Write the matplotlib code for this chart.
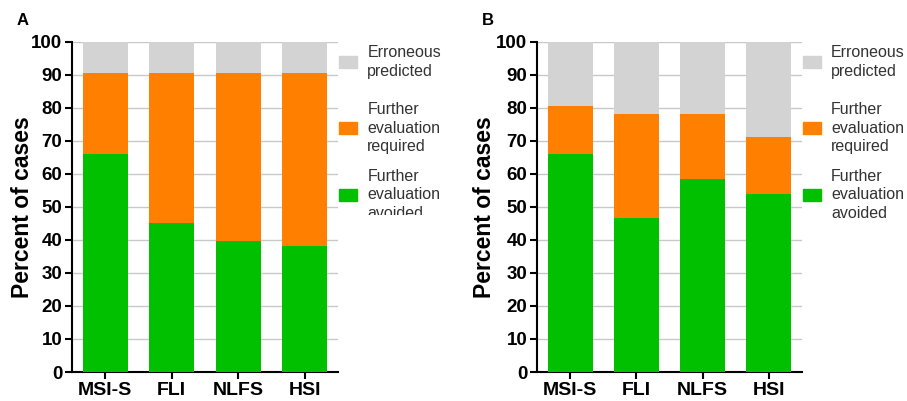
import numpy as np
import matplotlib.pyplot as plt
from matplotlib.patches import Rectangle
from matplotlib.transforms import Bbox

plt.rcParams['font.family'] = ['Liberation Sans', 'DejaVu Sans']

methods = ['MSI-S', 'FLI', 'NLFS', 'HSI']

# panel A (percent of cases)
avoided_a = [66, 45, 39.5, 38]
required_a = [24.5, 45.5, 51, 52.5]
erroneous_a = [9.5, 9.5, 9.5, 9.5]

# panel B
avoided_b = [66, 46.7, 58.5, 54]
required_b = [14.5, 31.3, 19.5, 17]
erroneous_b = [19.5, 22, 22, 29]

legend_labels = ['Erroneous\npredicted', 'Further\nevaluation\nrequired',
                 'Further\nevaluation\navoided']
c_green = '#00c000'
c_orange = '#ff8000'
c_gray = '#d3d3d3'

fig = plt.figure(figsize=(9.07, 4.01), dpi=100)


def draw_panel(rect, avoided, required, erroneous, letter, clip_legend, pad):
    ax = fig.add_axes(rect)
    x = np.arange(len(methods))
    avoided = np.array(avoided)
    required = np.array(required)
    erroneous = np.array(erroneous)
    w = 0.68
    ax.bar(x, avoided, w, color=c_green, zorder=3)
    ax.bar(x, required, w, bottom=avoided, color=c_orange, zorder=3)
    ax.bar(x, erroneous, w, bottom=avoided + required, color=c_gray, zorder=3)

    ax.set_xlim(-0.5, 3.5)
    ax.set_ylim(0, 100)
    ax.set_yticks(np.arange(0, 101, 10))
    ax.set_xticks(x)
    ax.set_xticklabels(methods, fontsize=14, fontweight='bold')
    for lab in ax.get_yticklabels():
        lab.set_fontsize(13.5)
        lab.set_fontweight('bold')
    ax.tick_params(axis='both', direction='out', length=5, width=1.5, pad=2)
    ax.grid(axis='y', color='#c8c8c8', linewidth=1, zorder=0)
    ax.set_axisbelow(True)
    for s in ['top', 'right']:
        ax.spines[s].set_visible(False)
    for s in ['left', 'bottom']:
        ax.spines[s].set_linewidth(1.5)
    ax.set_ylabel('Percent of cases', fontsize=16.5, fontweight='bold', labelpad=pad)

    # legend drawn by hand to the right of the axes
    colors = [c_gray, c_orange, c_green]
    ys = [0.938, 0.738, 0.536]
    for lab, col, yy in zip(legend_labels, colors, ys):
        ax.add_patch(Rectangle((1.003, yy - 0.018), 0.068, 0.036, color=col,
                               transform=ax.transAxes, clip_on=False))
        t = ax.text(1.11, yy, lab, transform=ax.transAxes, fontsize=11.5,
                    va='center', ha='left', color='#333333', linespacing=1.3)
        if clip_legend:
            t.set_clip_box(Bbox([[0, 401 - 215], [907, 401]]))
            t.set_clip_on(True)
        else:
            t.set_clip_on(False)

    fig.text(rect[0] - 0.061, 0.95, letter, fontsize=12, fontweight='bold',
             ha='left', va='center')
    return ax


draw_panel([0.0794, 0.0723, 0.2933, 0.8242], avoided_a, required_a, erroneous_a, 'A', True, -2)
draw_panel([0.592, 0.0723, 0.2922, 0.8242], avoided_b, required_b, erroneous_b, 'B', False, 0)

fig.savefig('out.png', dpi=100)
